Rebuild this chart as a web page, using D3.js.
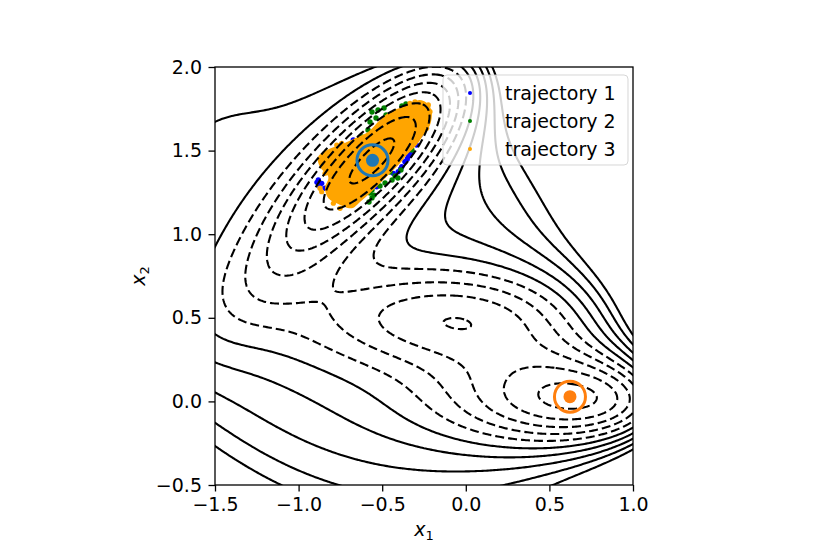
<!DOCTYPE html>
<html>
<head>
<meta charset="utf-8">
<script src="https://cdn.jsdelivr.net/npm/d3@7"></script>
<style>
  body { margin: 0; background: #fff; }
  text { font-family: "DejaVu Sans", sans-serif; }
</style>
</head>
<body>
<div id="chart"></div>
<script>
// Mueller-Brown potential coefficients
const A = [-200, -100, -170, 15];
const a = [-1, -1, -6.5, 0.7];
const b = [0, 0, 11, 0.6];
const c = [-10, -10, -6.5, 0.7];
const X0 = [1, 0, -0.5, -1];
const Y0 = [0, 0.5, 1.5, 1];

const levels = d3.range(-140, 81, 20);
const xTicks = [-1.5, -1.0, -0.5, 0.0, 0.5, 1.0];
const yTicks = [-0.5, 0.0, 0.5, 1.0, 1.5, 2.0];

const minimaX = [-0.558, 0.623];
const minimaY = [1.442, 0.028];
const minimaColor = ["#1f77b4", "#ff7f0e"];

const trajNames = ["trajectory 1", "trajectory 2", "trajectory 3"];
const trajColors = ["blue", "green", "orange"];

const traj1 = [
  [-0.673, 1.563], [-0.682, 1.533], [-0.697, 1.504], [-0.882, 1.324],
  [-0.862, 1.304], [-0.872, 1.284], [-0.842, 1.275], [-0.404, 1.374],
  [-0.383, 1.404], [-0.364, 1.434], [-0.344, 1.464], [-0.324, 1.493],
  [-0.304, 1.563], [-0.274, 1.593], [-0.434, 1.364], [-0.533, 1.284],
  [-0.772, 1.394], [-0.543, 1.294], [-0.334, 1.474], [-0.294, 1.533],
  [-0.533, 1.633], [-0.39, 1.39], [-0.35, 1.45], [-0.89, 1.31]
];
const traj2 = [
  [-0.561, 1.731], [-0.525, 1.743], [-0.489, 1.755], [-0.537, 1.695],
  [-0.573, 1.671], [-0.477, 1.713], [-0.382, 1.767], [-0.358, 1.779],
  [-0.304, 1.695], [-0.268, 1.647], [-0.25, 1.623], [-0.286, 1.659],
  [-0.621, 1.581], [-0.585, 1.623], [-0.573, 1.246], [-0.561, 1.217],
  [-0.579, 1.193], [-0.549, 1.234], [-0.453, 1.372], [-0.423, 1.348],
  [-0.406, 1.336], [-0.441, 1.324], [-0.388, 1.384], [-0.483, 1.306],
  [-0.513, 1.288], [-0.346, 1.504], [-0.322, 1.504], [-0.561, 1.264]
];
// dense core of trajectory 3 (outline) and its loose points
const traj3Core = [
  [-0.204, 1.733], [-0.214, 1.653], [-0.254, 1.593], [-0.294, 1.533],
  [-0.353, 1.474], [-0.394, 1.424], [-0.453, 1.364], [-0.513, 1.304],
  [-0.573, 1.245], [-0.633, 1.193], [-0.682, 1.155], [-0.763, 1.181],
  [-0.822, 1.215], [-0.842, 1.276], [-0.822, 1.342], [-0.872, 1.402],
  [-0.884, 1.462], [-0.83, 1.504], [-0.752, 1.533], [-0.663, 1.574],
  [-0.583, 1.613], [-0.513, 1.683], [-0.453, 1.733], [-0.374, 1.763],
  [-0.314, 1.792], [-0.274, 1.803], [-0.226, 1.779]
];
const traj3 = [
  [-0.842, 1.454], [-0.812, 1.474], [-0.772, 1.533], [-0.742, 1.544],
  [-0.852, 1.434], [-0.812, 1.414], [-0.842, 1.364], [-0.792, 1.344],
  [-0.872, 1.275], [-0.862, 1.254], [-0.792, 1.185], [-0.752, 1.155],
  [-0.304, 1.792], [-0.264, 1.783], [-0.224, 1.773], [-0.214, 1.733],
  [-0.234, 1.633], [-0.334, 1.783]
];

const margin = { top: 67, left: 215 },
  width = 418,
  height = 418;

const svg = d3.select("#chart").append("svg")
  .attr("width", 830)
  .attr("height", 554);
svg.append("rect").attr("width", 830).attr("height", 554).attr("fill", "#fff");

const g = svg.append("g")
  .attr("transform", `translate(${margin.left},${margin.top})`);

const x = d3.scaleLinear().domain([-1.5, 1.0]).range([0, width]);
const y = d3.scaleLinear().domain([-0.5, 2.0]).range([height, 0]);

svg.append("defs").append("clipPath").attr("id", "clip")
  .append("rect").attr("width", width).attr("height", height);

const plot = g.append("g").attr("clip-path", "url(#clip)");

// scatter of the trajectories
[traj1, traj2].forEach((pts, k) => {
  plot.append("g").selectAll("circle").data(pts).enter()
    .append("circle")
    .attr("cx", (d) => x(d[0]))
    .attr("cy", (d) => y(d[1]))
    .attr("r", 2.7)
    .attr("fill", trajColors[k]);
});
plot.append("path")
  .attr("d", d3.line().x((d) => x(d[0])).y((d) => y(d[1])).curve(d3.curveCatmullRomClosed)(traj3Core))
  .attr("fill", trajColors[2]);
plot.append("g").selectAll("circle").data(traj3).enter()
  .append("circle")
  .attr("cx", (d) => x(d[0]))
  .attr("cy", (d) => y(d[1]))
  .attr("r", 2.6)
  .attr("fill", trajColors[2]);

// potential on a grid, slightly larger than the axes
function potential(px, py) {
  let v = 0;
  for (let i = 0; i < 4; i++) {
    const dx = px - X0[i], dy = py - Y0[i];
    v += A[i] * Math.exp(a[i] * dx * dx + b[i] * dx * dy + c[i] * dy * dy);
  }
  return v;
}
const step = 0.01, gx0 = -1.6, gy0 = -0.6, nx = 271, ny = 271;
const values = new Array(nx * ny);
for (let j = 0; j < ny; j++)
  for (let i = 0; i < nx; i++)
    values[j * nx + i] = potential(gx0 + i * step, gy0 + j * step);

const contours = d3.contours().size([nx, ny]).thresholds(levels)(values);
const proj = d3.geoTransform({
  point: function (px, py) {
    this.stream.point(x(gx0 + (px - 0.5) * step), y(gy0 + (py - 0.5) * step));
  },
});
const path = d3.geoPath(proj);

plot.append("g").selectAll("path").data(contours).enter()
  .append("path")
  .attr("d", path)
  .attr("fill", "none")
  .attr("stroke", "#000")
  .attr("stroke-width", 2.1)
  .attr("stroke-dasharray", (d) => (d.value < 0 ? "9,4" : null));

// minima markers
minimaX.forEach((mx, k) => {
  plot.append("circle")
    .attr("cx", x(mx)).attr("cy", y(minimaY[k]))
    .attr("r", 6.5).attr("fill", minimaColor[k]);
  plot.append("circle")
    .attr("cx", x(mx)).attr("cy", y(minimaY[k]))
    .attr("r", 15.5).attr("fill", "none")
    .attr("stroke", minimaColor[k]).attr("stroke-width", 3);
});

// legend
const legend = g.append("g").attr("transform", `translate(${x(-1.5) + 228},${8})`);
legend.append("rect")
  .attr("width", 185).attr("height", 90)
  .attr("rx", 4)
  .attr("fill", "#fff").attr("fill-opacity", 0.8)
  .attr("stroke", "#ccc").attr("stroke-opacity", 0.8);
trajNames.forEach((name, i) => {
  legend.append("circle")
    .attr("cx", 27).attr("cy", 18 + i * 28)
    .attr("r", 2).attr("fill", trajColors[i]);
  legend.append("text")
    .attr("x", 62).attr("y", 18 + i * 28)
    .attr("dy", "0.36em")
    .attr("font-size", 19)
    .text(name);
});

// axes
const xAxis = g.append("g")
  .attr("transform", `translate(0,${height})`)
  .call(d3.axisBottom(x).tickValues(xTicks).tickFormat(d3.format(".1f")).tickSize(6.5).tickPadding(6.5));
const yAxis = g.append("g")
  .call(d3.axisLeft(y).tickValues(yTicks).tickFormat(d3.format(".1f")).tickSize(6.5).tickPadding(6.5));
[xAxis, yAxis].forEach((ax) => {
  ax.select(".domain").remove();
  ax.selectAll("line").attr("stroke", "#000").attr("stroke-width", 1.3);
  ax.selectAll("text").attr("font-size", 19).attr("fill", "#000")
    .attr("font-family", '"DejaVu Sans", sans-serif');
});
g.append("rect")
  .attr("width", width).attr("height", height)
  .attr("fill", "none").attr("stroke", "#000").attr("stroke-width", 1.3);

const xl = g.append("text")
  .attr("x", width / 2).attr("y", height + 51)
  .attr("text-anchor", "middle").attr("font-size", 19);
xl.append("tspan").attr("font-style", "italic").text("x");
xl.append("tspan").attr("font-size", 13).attr("dy", 4).text("1");

const yl = g.append("text")
  .attr("transform", `translate(${-70},${height / 2}) rotate(-90)`)
  .attr("text-anchor", "middle").attr("font-size", 19);
yl.append("tspan").attr("font-style", "italic").text("x");
yl.append("tspan").attr("font-size", 13).attr("dy", 4).text("2");
</script>
</body>
</html>
